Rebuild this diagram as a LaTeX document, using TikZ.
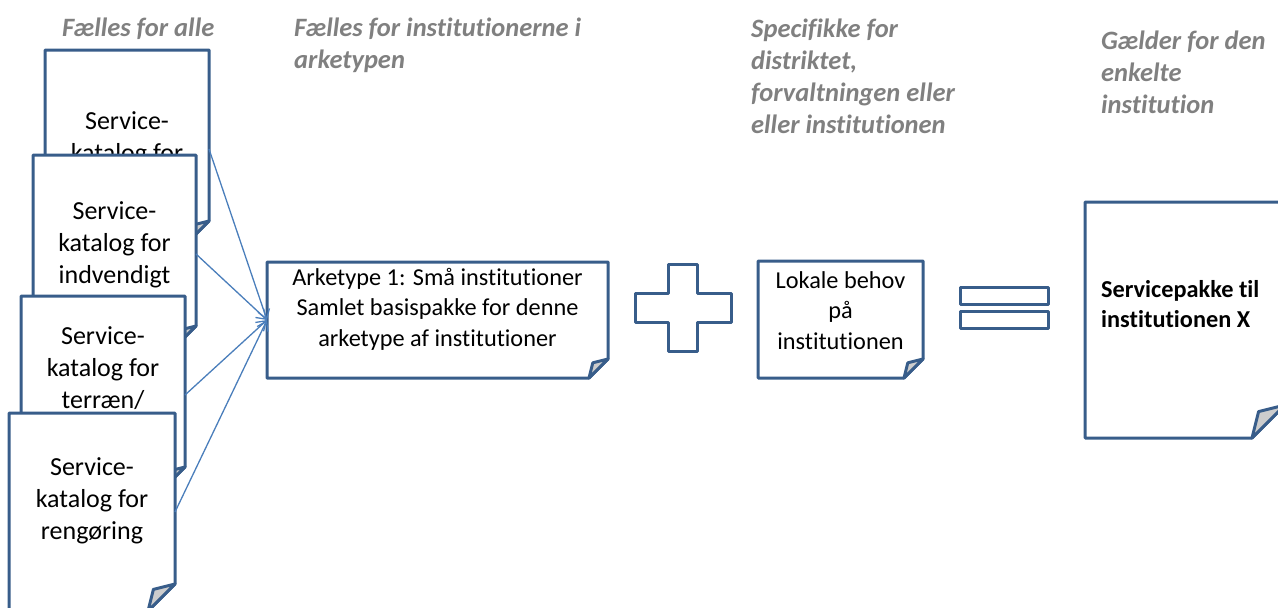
\documentclass[tikz,border=0pt]{standalone}
\usepackage{fontspec}
\setmainfont{Carlito}[Ligatures=NoCommon]
\usetikzlibrary{arrows.meta}
\definecolor{docblue}{RGB}{56,93,138}
\definecolor{arrowblue}{RGB}{74,126,187}
\definecolor{foldgray}{RGB}{205,205,205}
\definecolor{labelgray}{RGB}{128,128,128}
\tikzset{
  docbox/.style={shape=rectangle, inner sep=0pt, outer sep=-3pt, draw=none,
    path picture={
      \coordinate (NW) at ([shift={(3pt,-3pt)}]path picture bounding box.north west);
      \coordinate (SE) at ([shift={(-3pt,3pt)}]path picture bounding box.south east);
      \filldraw[fill=white, draw=docblue, line width=3pt, line join=round]
        (NW) -- (NW -| SE) -- ([yshift=#1pt]SE) -- ([xshift=-#1pt]SE) -- (NW |- SE) -- cycle;
      \filldraw[fill=foldgray, draw=docblue, line width=3pt, line join=round]
        ([xshift=-#1pt]SE) -- ([shift={(-0.8*#1pt,0.8*#1pt)}]SE) -- ([yshift=#1pt]SE) -- cycle;
    }},
  doctext/.style={align=center, inner sep=0pt, font=\fontsize{26}{32}\selectfont},
  boxtext/.style={align=center, inner sep=0pt, font=\fontsize{24.3}{30.5}\selectfont},
  lbl/.style={anchor=north west, align=left, inner sep=0pt, text=labelgray,
    font=\bfseries\itshape\fontsize{26.5}{32}\selectfont},
  conn/.style={draw=arrowblue, line width=1.3pt, -{Straight Barb[length=9pt,width=12pt]}},
  symb/.style={fill=white, draw=docblue, line width=3pt, line join=round}
}
\begin{document}
\begin{tikzpicture}[x=1pt,y=-1pt]
\useasboundingbox (0,0) rectangle (1278,608);
\clip (0,0) rectangle (1278,608);

% labels
\node[lbl] (l1) at (62,18) {Fælles for alle};
\node[lbl] (l2) at (294,18) {Fælles for institutionerne i\\arketypen};
\node[lbl] (l3) at (751,19) {Specifikke for\\distriktet,\\forvaltningen eller\\eller institutionen};
\node[lbl] (l4) at (1101,31) {Gælder for den\\enkelte\\institution};

% stacked catalogues
\node[docbox=27, minimum width=170pt, minimum height=204pt] (d1) at (127,149) {};
\node[doctext] (t1) at ([yshift=10pt]d1.center) {Service-\\katalog for};
\node[docbox=27, minimum width=169pt, minimum height=204pt] (d2) at (114.5,254) {};
\node[doctext] (t2) at ([yshift=9pt]d2.center) {Service-\\katalog for\\indvendigt};
\node[docbox=27, minimum width=170pt, minimum height=204pt] (d3) at (103,395) {};
\node[doctext] (t3) at ([yshift=27pt]d3.center) {Service-\\katalog for\\terræn/};
\node[docbox=27, minimum width=172pt, minimum height=204pt] (d4) at (92,512) {};
\node[doctext] (t4) at ([yshift=11pt]d4.center) {Service-\\katalog for\\rengøring};

% archetype box
\node[docbox=19, minimum width=347pt, minimum height=122pt] (ark) at (437.5,320) {};
\node[boxtext] (t5) at ([yshift=11pt]ark.center) {Arketype 1: Små institutioner\\Samlet basispakke for denne\\arketype af institutioner};

% local needs
\node[docbox=19, minimum width=171pt, minimum height=123pt] (lok) at (840.5,319.5) {};
\node[boxtext] (t6) at ([yshift=9pt]lok.center) {Lokale behov\\på\\institutionen};

% result
\node[docbox=33, minimum width=206pt, minimum height=242pt] (res) at (1185,320) {};
\node[anchor=north west, align=left, inner sep=0pt, font=\bfseries\fontsize{24.3}{30}\selectfont] (t7) at (1101,280) {Servicepakke til\\institutionen X};

% connectors
\draw[conn] (d1.east) -- (ark.west);
\draw[conn] (d2.east) -- (ark.west);
\draw[conn] (d3.east) -- (ark.west);
\draw[conn] (d4.east) -- (ark.west);

% plus
\draw[symb] (668,264) -- (697,264) -- (697,293) -- (731,293) -- (731,322) -- (697,322)
  -- (697,351) -- (668,351) -- (668,322) -- (635,322) -- (635,293) -- (668,293) -- cycle;
% equals
\draw[symb] (960,287) rectangle (1048,304);
\draw[symb] (960,311) rectangle (1048,328);
\end{tikzpicture}
\end{document}
